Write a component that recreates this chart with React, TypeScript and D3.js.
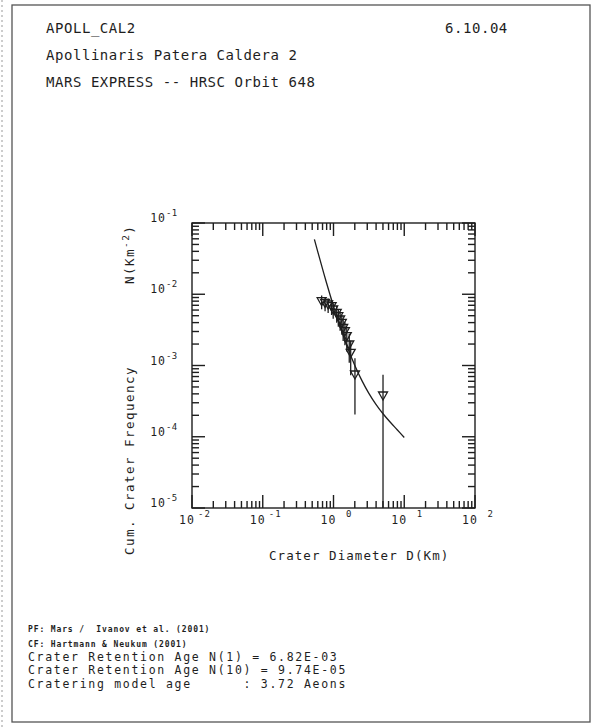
import React from "react";
import * as d3 from "d3";

// ---- data ----
const diameters = [0.68, 0.76, 0.84, 0.94, 0.99, 1.11, 1.17, 1.24, 1.31, 1.37, 1.45, 1.54, 1.67, 1.75, 2.01, 5.01];
const cumFreq = [7.86e-3, 7.46e-3, 7.07e-3, 6.69e-3, 6.01e-3, 5.4e-3, 4.84e-3, 4.35e-3, 3.91e-3, 3.33e-3, 2.98e-3, 2.54e-3, 1.94e-3, 1.48e-3, 7.36e-4, 3.73e-4];
const freqErr = [1.71e-3, 1.67e-3, 1.63e-3, 1.58e-3, 1.49e-3, 1.42e-3, 1.35e-3, 1.28e-3, 1.21e-3, 1.12e-3, 1.06e-3, 9.7e-4, 8.5e-4, 7.5e-4, 5.3e-4, 3.7e-4];

// isochron curve (production function fit)
const curveD = [0.537, 0.631, 0.794, 1.0, 1.259, 1.585, 1.995, 2.512, 3.162, 3.981, 5.012, 6.31, 7.943, 10.0];
const curveN = [0.059, 0.03286, 0.014634, 6.82e-3, 3.369e-3, 1.78e-3, 1.0108e-3, 6.184e-4, 4.064e-4, 2.848e-4, 2.101e-4, 1.608e-4, 1.2534e-4, 9.765e-5];

const xExponents = [-2, -1, 0, 1, 2];
const yExponents = [-5, -4, -3, -2, -1];
const minorMultipliers = [2, 3, 4, 5, 6, 7, 8, 9];

const headerLines = ["APOLL_CAL2", "Apollinaris Patera Caldera 2", "MARS EXPRESS -- HRSC Orbit 648"];
const dateText = "6.10.04";
const footerSmall = ["PF: Mars /  Ivanov et al. (2001)", "CF: Hartmann & Neukum (2001)"];
const footerLines = [
  "Crater Retention Age N(1) = 6.82E-03",
  "Crater Retention Age N(10) = 9.74E-05",
  "Cratering model age      : 3.72 Aeons",
];
const xTitle = "Crater Diameter D(Km)";
const yTitleA = "Cum. Crater Frequency";

const MONO = "'DejaVu Sans Mono', monospace";
const INK = "#1e1e1e";

export default function App() {
  const W = 598, H = 727;
  const L = 192, R = 475, T = 223, B = 508;
  const x = d3.scaleLog().domain([1e-2, 1e2]).range([L, R]);
  const y = d3.scaleLog().domain([1e-5, 1e-1]).range([B, T]);

  const majorLen = 13, minorLen = 7;

  const xMajor = xExponents.map((e) => Math.pow(10, e));
  const yMajor = yExponents.map((e) => Math.pow(10, e));
  const xMinor: number[] = [];
  xMajor.slice(0, -1).forEach((d) => minorMultipliers.forEach((m) => xMinor.push(d * m)));
  const yMinor: number[] = [];
  yMajor.slice(0, -1).forEach((d) => minorMultipliers.forEach((m) => yMinor.push(d * m)));

  const ticks: React.ReactNode[] = [];
  xMajor.forEach((v, i) => {
    const px = x(v);
    ticks.push(<line key={"xb" + i} x1={px} x2={px} y1={B} y2={B - majorLen} />);
    ticks.push(<line key={"xt" + i} x1={px} x2={px} y1={T} y2={T + majorLen} />);
  });
  xMinor.forEach((v, i) => {
    const px = x(v);
    ticks.push(<line key={"xbm" + i} x1={px} x2={px} y1={B} y2={B - minorLen} />);
    ticks.push(<line key={"xtm" + i} x1={px} x2={px} y1={T} y2={T + minorLen} />);
  });
  yMajor.forEach((v, i) => {
    const py = y(v);
    ticks.push(<line key={"yl" + i} x1={L} x2={L + majorLen} y1={py} y2={py} />);
    ticks.push(<line key={"yr" + i} x1={R} x2={R - majorLen} y1={py} y2={py} />);
  });
  yMinor.forEach((v, i) => {
    const py = y(v);
    ticks.push(<line key={"ylm" + i} x1={L} x2={L + minorLen} y1={py} y2={py} />);
    ticks.push(<line key={"yrm" + i} x1={R} x2={R - minorLen} y1={py} y2={py} />);
  });

  const line = d3
    .line<[number, number]>()
    .x((d) => x(d[0]))
    .y((d) => y(d[1]))
    .curve(d3.curveCatmullRom);
  const curvePath = line(curveD.map((d, i) => [d, curveN[i]] as [number, number])) || "";

  const expStr = (e: number) => (e < 0 ? "-" : " ") + Math.abs(e);

  return (
    <svg
      width={W}
      height={H}
      viewBox={`0 0 ${W} ${H}`}
      style={{ position: "absolute", left: 0, top: 0, background: "#fff" }}
    >
      <rect x={0} y={0} width={W} height={H} fill="#fff" />
      {/* page frame */}
      <line x1={2} x2={2} y1={0} y2={H} stroke="#999" strokeWidth={1} strokeDasharray="2,3" />
      <rect x={12} y={5} width={578} height={717} fill="none" stroke="#555" strokeWidth={1.3} />

      {/* header */}
      <g fontFamily={MONO} fontSize={14} letterSpacing={0.55} fill={INK}>
        {headerLines.map((t, i) => (
          <text key={i} x={46} y={[33, 60, 87][i]} xmlSpace="preserve">
            {t}
          </text>
        ))}
        <text x={445} y={33}>{dateText}</text>
      </g>

      {/* plot frame & ticks */}
      <g stroke={INK} strokeWidth={1.4} fill="none">
        <rect x={L} y={T} width={R - L} height={B - T} />
        {ticks}
      </g>

      {/* tick labels */}
      <g fontFamily={MONO} fill={INK}>
        {xExponents.map((e, i) => {
          const px = x(Math.pow(10, e));
          return (
            <g key={i}>
              <text x={px - 13} y={524} fontSize={11.5} letterSpacing={1}>10</text>
              <text x={px + 6} y={517} fontSize={9} letterSpacing={1.2} xmlSpace="preserve">
                {expStr(e)}
              </text>
            </g>
          );
        })}
        {yExponents.map((e, i) => {
          const py = y(Math.pow(10, e));
          return (
            <g key={i}>
              <text x={L - 26} y={py - 1} fontSize={11.5} letterSpacing={1} textAnchor="end">10</text>
              <text x={L - 26} y={py - 7} fontSize={9} letterSpacing={0.3}>
                {expStr(e)}
              </text>
            </g>
          );
        })}
      </g>

      {/* axis titles */}
      <g fontFamily={MONO} fontSize={12.5} fill={INK}>
        <text x={269} y={560} letterSpacing={1.06}>{xTitle}</text>
        <text transform="translate(134,555) rotate(-90)" letterSpacing={1.47}>{yTitleA}</text>
        <text transform="translate(134,284) rotate(-90)" letterSpacing={1.47}>
          N(Km
          <tspan fontSize={9.5} dy={-5}>-2</tspan>
          <tspan dy={5}>)</tspan>
        </text>
      </g>

      {/* clip region */}
      <defs>
        <clipPath id="plotClip">
          <rect x={L} y={T} width={R - L} height={B - T} />
        </clipPath>
      </defs>

      {/* isochron */}
      <path d={curvePath} fill="none" stroke={INK} strokeWidth={1.3} clipPath="url(#plotClip)" />

      {/* data: error bars + triangles */}
      <g stroke={INK} strokeWidth={1.3} fill="none" clipPath="url(#plotClip)">
        {diameters.map((d, i) => {
          const px = x(d);
          const py = y(cumFreq[i]);
          const hi = y(cumFreq[i] + freqErr[i]);
          const loV = cumFreq[i] - freqErr[i];
          const lo = loV > 1e-5 ? y(loV) : B;
          return (
            <g key={i}>
              <line x1={px} x2={px} y1={hi} y2={lo} />
              <path d={`M${px - 4.5},${py - 4}L${px + 4.5},${py - 4}L${px},${py + 4}Z`} />
            </g>
          );
        })}
      </g>

      {/* footer */}
      <g fontFamily={MONO} fill={INK}>
        {footerSmall.map((t, i) => (
          <text key={i} x={28} y={[632, 646.5][i]} fontSize={8} fontWeight="bold" letterSpacing={0.88} xmlSpace="preserve">
            {t}
          </text>
        ))}
        {footerLines.map((t, i) => (
          <text key={i} x={28} y={[661, 674, 688][i]} fontSize={11.5} letterSpacing={1.7} xmlSpace="preserve">
            {t}
          </text>
        ))}
      </g>
    </svg>
  );
}
